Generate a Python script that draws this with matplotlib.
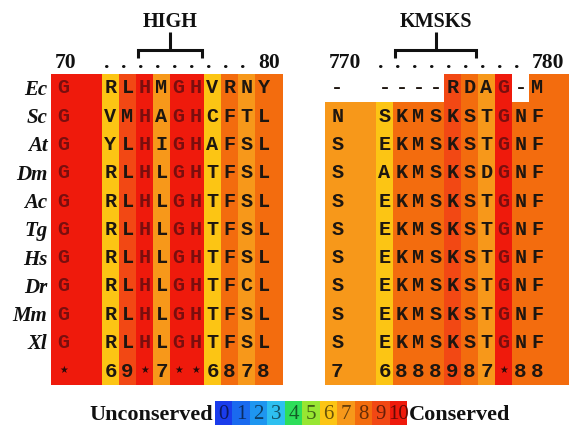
import matplotlib
matplotlib.use('Agg')
import matplotlib.pyplot as plt
from matplotlib.patches import Rectangle
from matplotlib import colors as mcolors

# ---------------- data ----------------
species = ['Ec', 'Sc', 'At', 'Dm', 'Ac', 'Tg', 'Hs', 'Dr', 'Mm', 'Xl']

high_seqs = ['GRLHMGHVRNY', 'GVMHAGHCFTL', 'GYLHIGHAFSL', 'GRLHLGHTFSL',
             'GRLHLGHTFSL', 'GRLHLGHTFSL', 'GRLHLGHTFSL', 'GRLHLGHTFCL',
             'GRLHLGHTFSL', 'GRLHLGHTFSL']
high_scores = ['*', '6', '9', '*', '7', '*', '*', '6', '8', '7', '8']
high_numbers = [70, 80]
high_motif = 'HIGH'
high_motif_idx = (3, 6)

kmsks_seqs = ['-----RDAG-M', 'NSKMSKSTGNF', 'SEKMSKSTGNF', 'SAKMSKSDGNF',
              'SEKMSKSTGNF', 'SEKMSKSTGNF', 'SEKMSKSTGNF', 'SEKMSKSTGNF',
              'SEKMSKSTGNF', 'SEKMSKSTGNF']
kmsks_scores = ['7', '6', '8', '8', '8', '9', '8', '7', '*', '8', '8']
kmsks_numbers = [770, 780]
kmsks_motif = 'KMSKS'
kmsks_motif_idx = (2, 6)

legend_levels = ['0', '1', '2', '3', '4', '5', '6', '7', '8', '9', '10']
score_colors = ['#1A3CEB', '#1A6AEF', '#1E96F0', '#2EC0F0', '#2EDE5A', '#98E632',
                '#FCC514', '#F7981A', '#F36C0E', '#F24814', '#EF1A0C']

# ---------------- layout ----------------
W, H = 569, 428
DPI = 100
COLW = 17.0
ROWH = 28.3
TOP = 73.5
SERIF = 'Liberation Serif'
MONO = 'Liberation Mono'

fig = plt.figure(figsize=(W / DPI, H / DPI), dpi=DPI)
fig.patch.set_facecolor('white')


def score_val(s):
    return 10 if s == '*' else int(s)


def col_of(i):
    return 0 if i == 0 else i + 2


def make_panel(px0, px1, col0_px, seqs, scores, numbers, motif, motif_idx,
               ext_to, labels):
    ax = fig.add_axes([px0 / W, 0, (px1 - px0) / W, 1])
    ax.set_xlim((px0 - col0_px) / COLW, (px1 - col0_px) / COLW)
    ax.set_ylim((H - TOP) / ROWH, -TOP / ROWH)
    ax.axis('off')
    n = len(scores)
    rows = list(seqs) + [None]
    for r, seq in enumerate(rows):
        for i in range(n):
            c = col_of(i)
            w = 3 if i == 0 else 1
            if i == n - 1:
                w = ext_to - c
            sc = score_val(scores[i])
            if seq is not None and seq[i] == '-':
                fc = 'white'
            else:
                fc = score_colors[sc]
            ax.add_patch(Rectangle((c, r), w, 1, facecolor=fc, edgecolor='none'))
            xc = c + (0.72 if i == 0 else 0.5)
            if seq is not None:
                ch = seq[i]
                tc = '#7A0E0E' if sc == 10 else '#1E1610'
                ax.text(xc, r + 0.7, ch, family=MONO, fontweight='bold',
                        fontsize=14.5, color=tc, ha='center', va='baseline')
            else:
                if scores[i] == '*':
                    ax.text(xc, r + 0.47, '\u2605', family='DejaVu Sans',
                            fontsize=7, color='#2a0a0a', ha='center', va='center')
                else:
                    ax.text(xc, r + 0.73, scores[i], family=MONO, fontweight='bold',
                            fontsize=15, color='#1E1610', ha='center', va='baseline')
    # species labels
    if labels:
        for r, sp in enumerate(species):
            ax.text(-0.22, r + 0.75, sp, family=SERIF, fontstyle='italic',
                    fontweight='bold', fontsize=15, ha='right', va='baseline',
                    color='#111111', clip_on=False)
    # numbering row
    base = -0.19
    ax.text(col_of(0) + 0.22, base, str(numbers[0]), family=SERIF,
            fontweight='bold', fontsize=15.5, ha='left', va='baseline', color='#111111')
    ax.text(col_of(n - 1) + 0.18, base, str(numbers[1]), family=SERIF,
            fontweight='bold', fontsize=15.5, ha='left', va='baseline', color='#111111')
    for i in range(1, n - 1):
        ax.text(col_of(i) + 0.28, base, '.', family=SERIF, fontweight='bold',
                fontsize=15.5, ha='center', va='baseline', color='#111111')
    # motif bracket
    xa = col_of(motif_idx[0]) + 0.1
    xb = col_of(motif_idx[1]) + 0.9
    xm = (xa + xb) / 2
    yh = (50 - TOP) / ROWH
    yt = (57.5 - TOP) / ROWH
    ys = (32 - TOP) / ROWH
    lk = dict(color='#111111', lw=2.2, solid_capstyle='butt', solid_joinstyle='miter')
    ax.plot([xa, xa, xb, xb], [yt, yh, yh, yt], **lk)
    ax.plot([xm, xm], [yh, ys], **lk)
    ax.text(xm, (27 - TOP) / ROWH, motif, family=SERIF, fontweight='bold',
            fontsize=14.5, ha='center', va='baseline', color='#111111')
    return ax


make_panel(0, 300, 51, high_seqs, high_scores, high_numbers, high_motif,
           high_motif_idx, 13.65, True)
make_panel(300, W, 325, kmsks_seqs, kmsks_scores, kmsks_numbers, kmsks_motif,
           kmsks_motif_idx, 16, False)

# ---------------- legend ----------------
lx0, lx1, ly0, ly1 = 215, 407, 401, 425
lax = fig.add_axes([lx0 / W, (H - ly1) / H, (lx1 - lx0) / W, (ly1 - ly0) / H])
lax.set_xlim(0, len(legend_levels))
lax.set_ylim(0, 1)
lax.axis('off')
for k, lev in enumerate(legend_levels):
    col = score_colors[k]
    lax.add_patch(Rectangle((k, 0), 1, 1, facecolor=col, edgecolor='none'))
    rgb = mcolors.to_rgb(col)
    dark = tuple(v * 0.42 for v in rgb)
    lax.text(k + 0.5, 0.45, lev, family=SERIF, fontsize=15, color=dark,
             ha='center', va='center')
lax.text(-0.12, 0.42, 'Unconserved', family=SERIF, fontweight='bold',
         fontsize=16, ha='right', va='center', color='#111111', clip_on=False)
lax.text(len(legend_levels) + 0.1, 0.42, 'Conserved', family=SERIF,
         fontweight='bold', fontsize=16, ha='left', va='center',
         color='#111111', clip_on=False)

fig.savefig('out.png', dpi=DPI, facecolor='white')
